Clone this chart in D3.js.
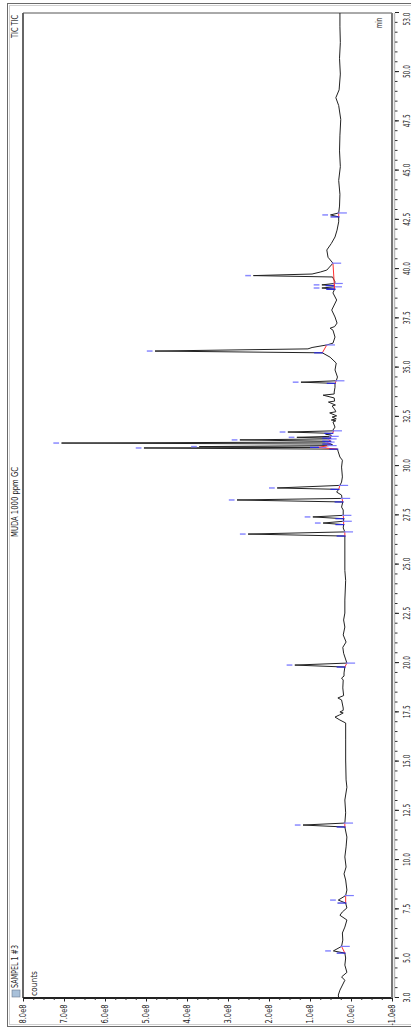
<!DOCTYPE html>
<html>
<head>
<meta charset="utf-8">
<script src="https://cdn.jsdelivr.net/npm/d3@7"></script>
<style>
  body { margin: 0; background: #fff; }
  svg { display: block; }
  text { font-family: "Liberation Sans Narrow", "DejaVu Sans Condensed", "Liberation Sans", sans-serif; fill: #222; }
</style>
</head>
<body>
<div id="chart-container"></div>
<script>
// --- Data (time in min, signal in counts) ---
const trace = [
  [3.0, 0.30e8], [3.15, 0.31e8], [3.4, 0.27e8], [3.9, 0.15e8], [4.07, 0.23e8],
  [4.3, 0.10e8], [4.67, 0.15e8], [5.03, 0.13e8], [5.28, 0.15e8], [5.39, 0.43e8],
  [5.62, 0.23e8], [5.94, 0.20e8], [6.3, 0.21e8], [6.6, 0.15e8], [6.96, 0.10e8],
  [7.2, 0.27e8], [7.37, 0.21e8], [7.57, 0.10e8], [7.82, 0.13e8], [7.97, 0.31e8],
  [8.2, 0.13e8], [8.48, 0.10e8], [8.99, 0.13e8], [9.3, 0.17e8], [9.65, 0.12e8],
  [10.16, 0.15e8], [10.67, 0.12e8], [11.17, 0.10e8], [11.68, 0.15e8], [11.78, 1.17e8],
  [11.88, 0.15e8], [12.4, 0.13e8], [13.05, 0.15e8], [13.7, 0.10e8], [14.07, 0.12e8],
  [15.08, 0.13e8], [16.1, 0.13e8], [16.96, 0.13e8], [17.11, 0.27e8], [17.26, 0.39e8],
  [17.37, 0.28e8], [17.47, 0.19e8], [17.52, 0.27e8], [17.6, 0.19e8], [17.72, 0.19e8],
  [18.13, 0.23e8], [18.23, 0.32e8], [18.35, 0.18e8], [18.74, 0.20e8], [19.14, 0.19e8],
  [19.24, 0.23e8], [19.34, 0.17e8], [19.5, 0.17e8], [19.8, 0.15e8], [19.9, 1.37e8],
  [20.0, 0.10e8], [20.5, 0.18e8], [20.8, 0.20e8], [21.07, 0.12e8], [21.43, 0.19e8],
  [21.83, 0.15e8], [22.19, 0.18e8], [22.54, 0.15e8], [23.2, 0.15e8], [24.2, 0.13e8],
  [24.7, 0.15e8], [25.74, 0.15e8], [26.45, 0.15e8], [26.55, 2.51e8], [26.66, 0.15e8],
  [26.86, 0.19e8], [27.03, 0.18e8], [27.11, 0.68e8], [27.2, 0.18e8], [27.33, 0.18e8],
  [27.42, 0.93e8], [27.5, 0.19e8], [27.77, 0.19e8], [27.92, 0.23e8], [28.18, 0.20e8],
  [28.28, 2.78e8], [28.36, 0.22e8], [28.53, 0.23e8], [28.68, 0.35e8], [28.82, 0.30e8],
  [28.89, 1.80e8], [29.02, 0.27e8], [29.19, 0.23e8], [29.45, 0.21e8], [29.95, 0.23e8],
  [30.3, 0.21e8], [30.46, 0.27e8], [30.72, 0.31e8], [30.86, 0.33e8], [30.92, 5.05e8],
  [30.95, 0.80e8], [30.99, 3.70e8], [31.04, 0.55e8], [31.08, 0.45e8], [31.12, 0.50e8],
  [31.17, 7.06e8], [31.22, 0.60e8], [31.26, 0.50e8], [31.33, 2.71e8], [31.38, 0.55e8],
  [31.42, 0.50e8], [31.46, 1.32e8], [31.51, 0.50e8], [31.57, 0.48e8], [31.62, 0.62e8],
  [31.66, 0.45e8], [31.73, 1.54e8], [31.79, 0.42e8], [31.83, 0.44e8], [31.98, 0.39e8],
  [32.24, 0.44e8], [32.3, 0.37e8], [32.34, 0.48e8], [32.4, 0.36e8], [32.49, 0.46e8],
  [32.55, 0.35e8], [32.7, 0.52e8], [32.76, 0.37e8], [32.85, 0.39e8], [33.05, 0.46e8],
  [33.1, 0.38e8], [33.25, 0.55e8], [33.3, 0.40e8], [33.46, 0.41e8], [33.6, 0.68e8],
  [33.66, 0.41e8], [33.76, 0.41e8], [34.0, 0.39e8], [34.2, 0.39e8], [34.26, 1.22e8],
  [34.33, 0.36e8], [34.52, 0.33e8], [34.88, 0.39e8], [35.23, 0.36e8], [35.53, 0.51e8],
  [35.75, 0.70e8], [35.84, 4.78e8], [35.95, 1.05e8], [36.02, 0.95e8], [36.15, 0.59e8],
  [36.24, 0.44e8], [36.55, 0.39e8], [36.9, 0.44e8], [37.0, 0.51e8], [37.08, 0.40e8],
  [37.26, 0.34e8], [37.57, 0.39e8], [37.92, 0.47e8], [38.43, 0.35e8], [38.79, 0.44e8],
  [38.98, 0.40e8], [39.04, 0.71e8], [39.1, 0.42e8], [39.16, 0.42e8], [39.2, 0.71e8],
  [39.27, 0.40e8], [39.35, 0.39e8], [39.6, 0.45e8], [39.67, 2.38e8], [39.75, 0.95e8],
  [39.85, 0.75e8], [39.95, 0.59e8], [40.3, 0.44e8], [40.6, 0.56e8], [40.97, 0.59e8],
  [41.3, 0.48e8], [41.63, 0.39e8], [41.98, 0.34e8], [42.4, 0.30e8], [42.65, 0.30e8],
  [42.75, 0.50e8], [42.85, 0.30e8], [43.2, 0.28e8], [43.8, 0.27e8], [44.5, 0.30e8],
  [45.2, 0.26e8], [46.0, 0.28e8], [46.8, 0.27e8], [47.6, 0.25e8], [48.3, 0.30e8],
  [48.7, 0.37e8], [49.1, 0.29e8], [49.9, 0.26e8], [50.7, 0.28e8], [51.5, 0.26e8],
  [52.3, 0.27e8], [53.0, 0.27e8]
];

// integrated peaks: [start, apex, end] (min)
const peaks = [
  [5.28, 5.39, 5.62], [7.82, 7.97, 8.2], [11.68, 11.78, 11.88], [19.8, 19.9, 20.0],
  [26.45, 26.55, 26.66], [27.03, 27.11, 27.2], [27.33, 27.42, 27.5], [28.18, 28.28, 28.36],
  [28.82, 28.89, 29.02], [30.86, 30.92, 30.95], [30.95, 30.99, 31.04], [31.12, 31.17, 31.22],
  [31.26, 31.33, 31.38], [31.42, 31.46, 31.51], [31.66, 31.73, 31.79], [34.2, 34.26, 34.33],
  [35.75, 35.84, 36.15], [38.98, 39.04, 39.1], [39.16, 39.2, 39.27], [38.98, 39.67, 40.3],
  [42.65, 42.75, 42.85]
];

const timeTicks = [3.0, 5.0, 7.5, 10.0, 12.5, 15.0, 17.5, 20.0, 22.5, 25.0, 27.5, 30.0,
  32.5, 35.0, 37.5, 40.0, 42.5, 45.0, 47.5, 50.0, 53.0];
const countTicks = [-1e8, 0, 1e8, 2e8, 3e8, 4e8, 5e8, 6e8, 7e8, 8e8];

// --- Layout: the whole chart is drawn turned by -90 degrees ---
const W = 411, H = 1030;
const plotW = 985; // time direction (screen vertical)
const plotH = 369; // counts direction (screen horizontal)

const svg = d3.select("#chart-container").append("svg")
  .attr("width", W).attr("height", H);

// outer frame
svg.append("rect").attr("x", 7.5).attr("y", 3.5).attr("width", 440).attr("height", 1023)
  .attr("fill", "none").attr("stroke", "#6a6a6a");
svg.append("rect").attr("x", 9.5).attr("y", 5.5).attr("width", 440).attr("height", 1019)
  .attr("fill", "none").attr("stroke", "#cfcfcf");

const g = svg.append("g").attr("transform", "translate(23,998) rotate(-90)");

const x = d3.scaleLinear().domain([3, 53]).range([0, plotW]);
const y = d3.scaleLinear().domain([-1e8, 8e8]).range([plotH, 0]);

// plot frame
g.append("line").attr("x1", 0).attr("x2", plotW).attr("y1", 0).attr("y2", 0)
  .attr("stroke", "#333").attr("stroke-width", 1.5);
g.append("line").attr("x1", plotW).attr("x2", plotW).attr("y1", 0).attr("y2", plotH)
  .attr("stroke", "#555");
g.append("line").attr("x1", 0).attr("x2", 0).attr("y1", 0).attr("y2", plotH)
  .attr("stroke", "#222").attr("stroke-width", 1.8);
// time axis line (double)
g.append("line").attr("x1", 0).attr("x2", plotW).attr("y1", plotH).attr("y2", plotH)
  .attr("stroke", "#777").attr("stroke-width", 2);
g.append("line").attr("x1", 0).attr("x2", plotW).attr("y1", plotH + 2.5).attr("y2", plotH + 2.5)
  .attr("stroke", "#bbb").attr("stroke-width", 1.5);

// --- Time axis ---
const minorTime = d3.range(3, 53.01, 0.5);
g.append("g").attr("transform", `translate(0,${plotH + 3})`)
  .call(d3.axisBottom(x).tickValues(minorTime).tickSize(2.5).tickFormat(""))
  .call((s) => s.select(".domain").remove())
  .selectAll("line").attr("stroke", "#333");

const timeAxis = g.append("g").attr("transform", `translate(0,${plotH + 3})`)
  .call(d3.axisBottom(x).tickValues(timeTicks).tickSize(4).tickPadding(4)
    .tickFormat((d) => d.toFixed(1)));
timeAxis.select(".domain").remove();
timeAxis.selectAll("line").attr("stroke", "#222");
timeAxis.selectAll("text")
  .attr("font-size", 9.5)
  .attr("fill", "#333")
  .attr("textLength", (d) => (d >= 10 ? 13 : 10))
  .attr("lengthAdjust", "spacingAndGlyphs")
  .attr("text-anchor", (d) => (d === 53 ? "end" : "middle"));

// --- Counts axis ---
const minorCounts = d3.range(-1e8, 8e8 + 1, 0.25e8);
g.append("g")
  .call(d3.axisLeft(y).tickValues(minorCounts).tickSize(2).tickFormat(""))
  .call((s) => s.select(".domain").remove())
  .selectAll("line").attr("stroke", "#333");

const countAxis = g.append("g")
  .call(d3.axisLeft(y).tickValues(countTicks).tickSize(3.5).tickPadding(3)
    .tickFormat((d) => (d === 0 ? "0.0e0" : (d / 1e8).toFixed(1) + "e8")));
countAxis.select(".domain").remove();
countAxis.selectAll("line").attr("stroke", "#222");
countAxis.selectAll("text")
  .attr("font-size", 9)
  .attr("fill", "#333")
  .attr("textLength", (d) => (d < 0 ? 21 : 19))
  .attr("lengthAdjust", "spacingAndGlyphs");

// --- Titles ---
g.append("rect").attr("x", 1).attr("y", -11).attr("width", 7).attr("height", 8)
  .attr("fill", "#a9c1da").attr("stroke", "#6b7a8c").attr("stroke-width", 0.6);
g.append("text").attr("x", 10).attr("y", -5).attr("font-size", 9)
  .attr("textLength", 43).attr("lengthAdjust", "spacingAndGlyphs").text("SAMPEL 1 #3");
g.append("text").attr("x", 496).attr("y", -5).attr("font-size", 9).attr("text-anchor", "middle")
  .attr("textLength", 70).attr("lengthAdjust", "spacingAndGlyphs").text("MUDA 1000 ppm GC");
g.append("text").attr("x", 983).attr("y", -5).attr("font-size", 9).attr("text-anchor", "end")
  .attr("textLength", 23).attr("lengthAdjust", "spacingAndGlyphs").text("TIC TIC");
g.append("text").attr("x", 2).attr("y", 14).attr("font-size", 9).attr("fill", "#334")
  .attr("textLength", 25).attr("lengthAdjust", "spacingAndGlyphs").text("counts");
g.append("text").attr("x", 980).attr("y", 359).attr("font-size", 9).attr("text-anchor", "end")
  .attr("fill", "#535").attr("textLength", 10).attr("lengthAdjust", "spacingAndGlyphs").text("min");

// --- Trace ---
const line = d3.line().x((d) => x(d[0])).y((d) => y(d[1]));
g.append("path").datum(trace)
  .attr("fill", "none").attr("stroke", "#222").attr("stroke-width", 1)
  .attr("stroke-linejoin", "round").attr("d", line);

// --- Peak integration marks ---
const valueAt = new Map(trace.map((d) => [d[0], d[1]]));
const marks = g.append("g").attr("class", "peaks");

peaks.forEach(([t0, tA, t1]) => {
  const b0 = valueAt.get(t0), b1 = valueAt.get(t1), top = valueAt.get(tA);
  // baseline
  marks.append("line")
    .attr("x1", x(t0)).attr("y1", y(b0)).attr("x2", x(t1)).attr("y2", y(b1))
    .attr("stroke", "#ff3030").attr("stroke-width", 1);
  // start / end delimiters
  marks.append("line")
    .attr("x1", x(t0)).attr("x2", x(t0)).attr("y1", y(b0 - 0.02e8)).attr("y2", y(b0 + 0.2e8))
    .attr("stroke", "#2a2ae0").attr("stroke-width", 1.2);
  marks.append("line")
    .attr("x1", x(t1)).attr("x2", x(t1)).attr("y1", y(b1 - 0.2e8)).attr("y2", y(b1 + 0.03e8))
    .attr("stroke", "#7c7cff").attr("stroke-width", 1.2);
  // apex label
  marks.append("line")
    .attr("x1", x(tA)).attr("x2", x(tA)).attr("y1", y(top + 0.06e8)).attr("y2", y(top + 0.2e8))
    .attr("stroke", "#8a8aff").attr("stroke-width", 1.5);
});
</script>
</body>
</html>
